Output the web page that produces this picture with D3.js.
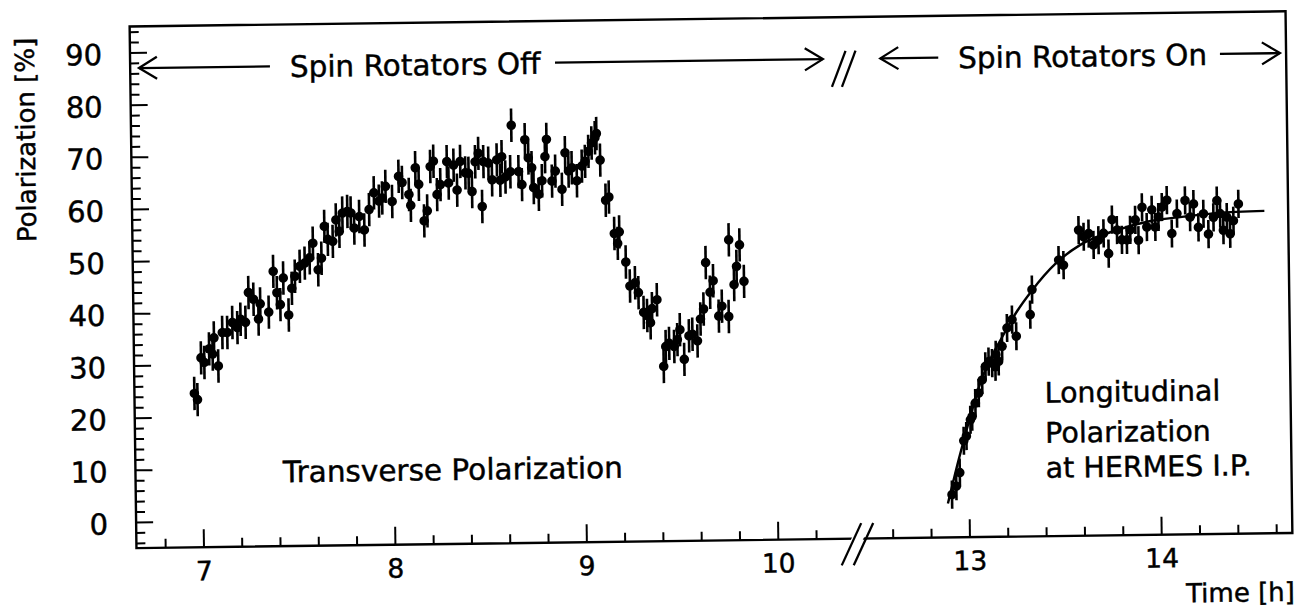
<!DOCTYPE html>
<html><head><meta charset="utf-8">
<script src="https://cdn.jsdelivr.net/npm/d3@7"></script>
<style>
html,body{margin:0;padding:0;background:#fff;}
svg{display:block;}
text{font-family:"DejaVu Sans",sans-serif;fill:#000;stroke:#000;stroke-width:0.45px;}
</style></head><body>
<svg id="chart" width="1299" height="608"></svg>
<script>
// ---- data (time in hours, polarization in %) ----
const transT = [6.963,6.979,7.000,7.017,7.043,7.061,7.069,7.090,7.113,7.139,7.166,7.192,7.209,7.235,7.252,7.278,7.303,7.313,7.357,7.383,
7.401,7.418,7.435,7.461,7.479,7.496,7.522,7.548,7.574,7.592,7.618,7.636,7.653,7.670,7.696,7.714,7.731,7.748,7.774,7.792,
7.809,7.836,7.862,7.888,7.914,7.940,7.957,7.975,8.009,8.044,8.062,8.097,8.106,8.132,8.149,8.175,8.192,8.210,8.227,8.244,
8.262,8.297,8.305,8.332,8.349,8.367,8.393,8.410,8.427,8.445,8.462,8.479,8.488,8.514,8.532,8.558,8.575,8.584,8.602,8.628,
8.636,8.671,8.688,8.706,8.723,8.740,8.749,8.775,8.793,8.810,8.819,8.845,8.863,8.897,8.915,8.932,8.949,8.975,9.002,9.019,
9.037,9.054,9.072,9.080,9.098,9.124,9.141,9.167,9.184,9.193,9.225,9.245,9.272,9.289,9.315,9.333,9.350,9.359,9.385,9.416,
9.428,9.446,9.472,9.489,9.503,9.524,9.550,9.568,9.594,9.611,9.628,9.642,9.663,9.680,9.707,9.724,9.759,9.764,9.789,9.803,
9.820,9.841];
const transP = [24.5,23.3,31.3,30.4,33.0,32.0,35.1,29.7,36.1,36.1,38.0,37.0,38.6,38.0,43.7,42.4,38.6,41.5,39.9,47.7,
43.6,41.3,46.4,39.3,44.4,46.7,48.6,49.2,50.2,53.0,47.9,50.1,56.2,53.7,53.3,57.4,55.2,58.7,59.0,58.7,
55.8,58.0,55.4,59.3,62.5,60.9,61.5,63.7,60.8,65.6,64.4,62.1,60.0,67.2,64.0,57.0,58.9,67.4,68.4,62.0,
63.9,68.3,64.2,67.6,62.8,68.3,66.1,66.0,62.5,68.2,69.8,59.6,68.2,67.9,64.7,68.5,64.6,69.1,65.2,66.2,
75.1,66.2,63.7,72.3,68.8,66.9,63.1,61.8,64.4,69.0,72.3,64.3,66.2,62.7,69.7,66.2,66.8,64.3,67.1,68.0,
69.9,71.5,72.5,73.3,68.2,60.5,61.1,54.1,52.2,54.4,48.6,44.0,44.6,42.7,38.9,38.3,36.9,39.6,41.3,28.5,
32.3,32.9,32.3,33.6,35.5,29.8,34.3,34.6,33.3,37.5,39.4,48.3,42.6,44.8,38.0,39.9,37.9,52.6,44.0,47.5,
51.6,44.6];
const transErr = 3.2;

const longT = [12.912,12.935,12.954,12.977,12.991,13.013,13.022,13.040,13.058,13.077,13.095,13.112,13.130,13.147,13.150,13.164,13.183,13.210,13.237,13.258,
13.332,13.343,13.484,13.509,13.590,13.616,13.642,13.667,13.693,13.720,13.745,13.765,13.790,13.815,13.841,13.859,13.886,13.902,13.922,13.946,
13.973,13.990,14.007,14.026,14.052,14.076,14.104,14.147,14.172,14.191,14.215,14.242,14.267,14.294,14.313,14.329,14.345,14.364,14.380,14.398,
14.425];
const longP = [3.2,4.8,7.4,13.5,14.4,17.5,18.1,20.7,22.6,25.1,27.7,28.6,28.3,27.6,29.9,28.6,31.5,35.0,36.6,33.4,
37.5,42.3,47.9,46.9,53.6,52.3,52.9,50.7,51.6,52.9,49.0,55.5,53.5,51.6,51.6,53.5,55.4,51.5,57.8,54.0,
57.3,54.0,55.9,57.8,59.1,52.7,56.5,59.0,55.8,58.3,53.8,56.4,52.5,55.7,58.9,56.4,53.2,55.7,52.5,55.0,
58.2];
const longErr = 2.7;

// fitted build-up curve
const fitT = [12.89,12.95,13.00,13.07,13.12,13.18,13.26,13.34,13.47,13.60,13.79,13.96,14.14,14.31,14.56];
const fitP = [1.5,10.0,16.5,24.8,29.0,33.0,38.0,42.0,47.3,50.8,53.5,55.1,55.9,56.5,56.8];

// axes
const xDomain = [6.65, 10.4, 12.4, 14.684];   // broken time axis (10.4 -> 12.4 cut)
const xMajor = [7, 8, 9, 10, 13, 14];
const xMinor = [6.8,7.2,7.4,7.6,7.8,8.2,8.4,8.6,8.8,9.2,9.4,9.6,9.8,10.2,12.6,12.8,13.2,13.4,13.6,13.8,14.2,14.4,14.6];
const yDomain = [-5, 95];
const yMajor = [0,10,20,30,40,50,60,70,80,90];
const yMinor = [-4,-2,2,4,6,8,12,14,16,18,22,24,26,28,32,34,36,38,42,44,46,48,52,54,56,58,62,64,66,68,72,74,76,78,82,84,86,88,92,94];

const yTitle = "Polarization [%]";
const xTitle = "Time [h]";
const labOff = "Spin Rotators Off";
const labOn = "Spin Rotators On";
const labTrans = "Transverse Polarization";
const labLong = ["Longitudinal", "Polarization", "at HERMES I.P."];

// ---- drawing ----
const W = 1299, H = 608;
const L = 133, R = 1289, T = 18.8, B = 540.5;
const svg = d3.select("#chart");
svg.append("rect").attr("width", W).attr("height", H).attr("fill", "#fff");
const g = svg.append("g").attr("transform", "rotate(-0.75,716,280)");

const x = d3.scaleLinear().domain(xDomain).range([L, 851, 851, R]);
const y = d3.scaleLinear().domain(yDomain).range([B, T]);

// frame
g.append("rect").attr("x", L).attr("y", T).attr("width", R - L).attr("height", B - T)
  .attr("fill", "none").attr("stroke", "#000").attr("stroke-width", 2.4);

function styleAxis(sel, fs) {
  sel.select(".domain").remove();
  sel.selectAll(".tick line").attr("stroke", "#000").attr("stroke-width", 2);
  sel.selectAll(".tick text").attr("font-size", fs).attr("font-family", '"DejaVu Sans",sans-serif').attr("fill", "#000");
}
const gxMinor = g.append("g").attr("transform", `translate(0,${B})`)
  .call(d3.axisBottom(x).tickValues(xMinor).tickSize(-9).tickFormat(""));
styleAxis(gxMinor, 0);
const gxMajor = g.append("g").attr("transform", `translate(0,${B})`)
  .call(d3.axisBottom(x).tickValues(xMajor).tickSize(-18).tickPadding(14).tickFormat(d3.format("d")));
styleAxis(gxMajor, 26.5);

const gyMinor = g.append("g").attr("transform", `translate(${L},0)`)
  .call(d3.axisLeft(y).tickValues(yMinor).tickSize(-9).tickFormat(""));
styleAxis(gyMinor, 0);
const gyMajor = g.append("g").attr("transform", `translate(${L},0)`)
  .call(d3.axisLeft(y).tickValues(yMajor).tickSize(-17).tickPadding(28).tickFormat(d3.format("d")));
styleAxis(gyMajor, 29);
gyMajor.selectAll(".tick text").attr("dy", "0.40em");

// axis titles
g.append("text").attr("transform", `translate(36.8,131) rotate(-90)`).attr("text-anchor", "middle")
  .attr("font-size", 26).text(yTitle);
g.append("text").attr("x", R + 1.7).attr("y", 608.5).attr("text-anchor", "end")
  .attr("font-size", 26).text(xTitle);

// break marks
function breakMark(cx, cy, hw, hh, gap) {
  [-gap / 2, gap / 2].forEach(o => {
    g.append("line").attr("x1", cx + o - hw).attr("y1", cy + hh).attr("x2", cx + o + hw).attr("y2", cy - hh)
      .attr("stroke", "#000").attr("stroke-width", 2.3);
  });
}
// white gap in bottom axis between slashes
g.append("polygon").attr("points", `${854-6-3},${B+6} ${854+6-3},${B+6} ${854+6+3},${B-6} ${854-6+3},${B-6}`)
  .attr("fill", "#fff");
breakMark(854, 546, 10, 21, 12);
breakMark(846.5, 70.5, 7, 18, 10);

// arrows
function arrow(x1, x2, yy) {
  const s = Math.sign(x2 - x1);
  g.append("line").attr("x1", x1).attr("y1", yy).attr("x2", x2).attr("y2", yy)
    .attr("stroke", "#000").attr("stroke-width", 2.3);
  g.append("polyline").attr("points", `${x2 - s * 18},${yy - 11} ${x2},${yy} ${x2 - s * 18},${yy + 11}`)
    .attr("fill", "none").attr("stroke", "#000").attr("stroke-width", 2.3);
}
const arrowY = y(87);
arrow(x(7.38), x(6.696), arrowY);
arrow(x(8.869), x(10.268), arrowY);
arrow(x(12.87), x(12.568), arrowY);
arrow(x(14.339), x(14.652), arrowY);

g.append("text").attr("x", x(7.484)).attr("y", y(84.9)).attr("font-size", 29.5).text(labOff);
g.append("text").attr("x", x(12.974)).attr("y", y(84.9)).attr("font-size", 29.5).text(labOn);
g.append("text").attr("x", x(7.42)).attr("y", y(7.25)).attr("font-size", 29.5).text(labTrans);
const lv = [20.6, 12.9, 6.2];
labLong.forEach((s, i) => {
  g.append("text").attr("x", x(13.402)).attr("y", y(lv[i])).attr("font-size", 28.5).text(s);
});

// fit curve
const fit = fitT.map((t, i) => [t, fitP[i]]);
g.append("path").datum(fit)
  .attr("d", d3.line().x(d => x(d[0])).y(d => y(d[1])).curve(d3.curveMonotoneX))
  .attr("fill", "none").attr("stroke", "#000").attr("stroke-width", 2.4);

// data points with error bars
function drawSeries(T, P, err) {
  const data = T.map((t, i) => ({ t, p: P[i] }));
  const s = g.append("g");
  s.selectAll("line").data(data).join("line")
    .attr("x1", d => x(d.t)).attr("x2", d => x(d.t))
    .attr("y1", d => y(d.p - err)).attr("y2", d => y(d.p + err))
    .attr("stroke", "#000").attr("stroke-width", 2.6);
  s.selectAll("circle").data(data).join("circle")
    .attr("cx", d => x(d.t)).attr("cy", d => y(d.p)).attr("r", 4.8).attr("fill", "#000");
}
drawSeries(transT, transP, transErr);
drawSeries(longT, longP, longErr);
</script>
</body></html>
